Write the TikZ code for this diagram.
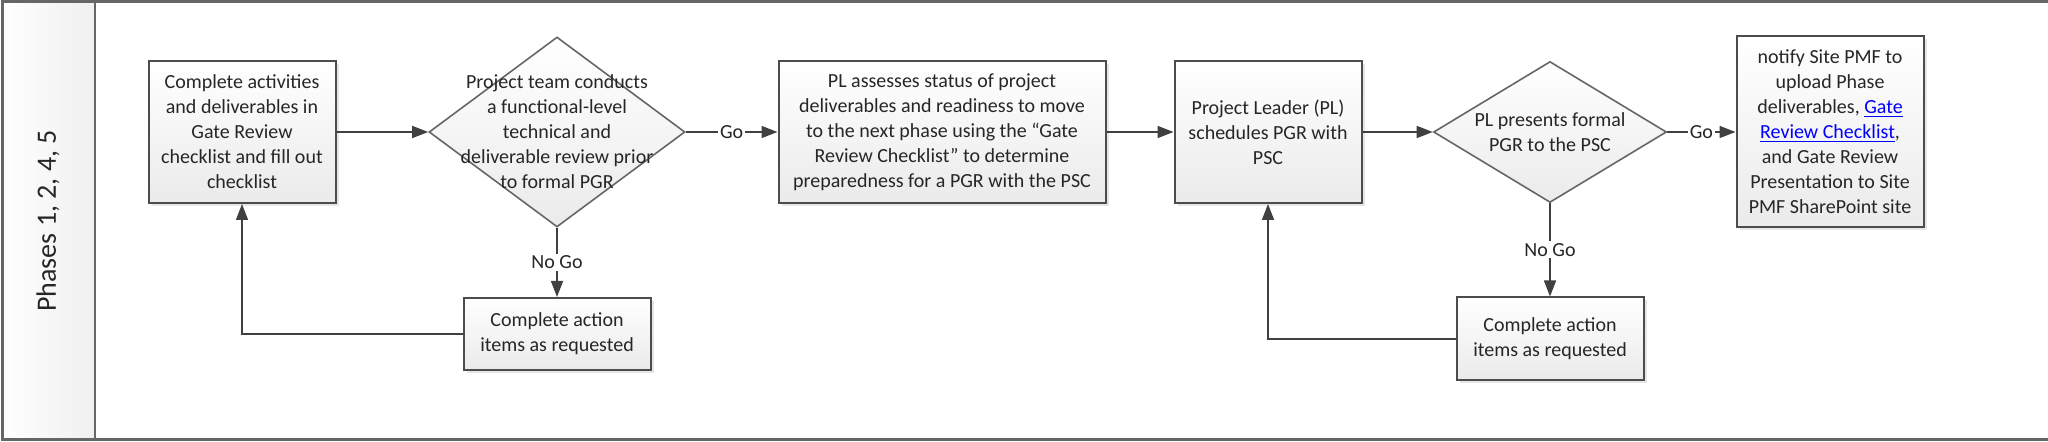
\documentclass[tikz,border=0pt]{standalone}
\usepackage{fontspec}
\setmainfont{Carlito}
\usetikzlibrary{shapes.geometric,arrows.meta,shadows}

\begin{document}
\begin{tikzpicture}[x=0.5pt,y=-0.5pt,
    box/.style={draw=black!70,line width=1pt,top color=white,bottom color=black!8,
      drop shadow={opacity=0.2,shadow xshift=1.5pt,shadow yshift=-1.5pt},
      align=center,inner sep=0pt,text=black!85,font=\fontsize{10}{12.5}\selectfont},
    dec/.style={diamond,draw=black!60,line width=0.8pt,top color=white,bottom color=black!8,inner sep=0pt},
    dectext/.style={align=center,text=black!85,font=\fontsize{10}{12.5}\selectfont},
    flow/.style={line width=0.8pt,draw=black!75,-{Triangle[length=8pt,width=6pt]}},
    lbl/.style={fill=white,inner sep=1pt,text=black!85,font=\fontsize{10}{12}\selectfont}]
        \useasboundingbox (0,0) rectangle (2048,442);
        % swimlane
        \shade[left color=white,right color=black!6] (2,2) rectangle (95,440);
        \draw[line width=1.5pt,black!60] (2048,2) -- (2,2) -- (2,440) -- (2048,440);
        \draw[line width=1.2pt,black!60] (95,2) -- (95,440);
        \node[rotate=90,font=\fontsize{14}{16}\selectfont,text=black!85] (lane) at (48,221) {Phases 1, 2, 4, 5};

        % steps
        \node[box,minimum width=93.5pt,minimum height=71pt] (b1) at (242,132)
            {Complete activities\\and deliverables in\\Gate Review\\checklist and fill out\\checklist};
        \node[dec,minimum width=128pt,minimum height=95pt] (d1) at (557,132) {};
        \node[dectext] (d1t) at (d1.center)
            {Project team conducts\\a functional-level\\technical and\\deliverable review prior\\to formal PGR};
        \node[box,minimum width=93.5pt,minimum height=36pt] (n1) at (557,334)
            {Complete action\\items as requested};
        \node[box,minimum width=163.5pt,minimum height=71pt] (b2) at (942,132)
            {PL assesses status of project\\deliverables and readiness to move\\to the next phase using the “Gate\\Review Checklist” to determine\\preparedness for a PGR with the PSC};
        \node[box,minimum width=93.5pt,minimum height=71pt] (b3) at (1268,132)
            {Project Leader (PL)\\schedules PGR with\\PSC};
        \node[dec,minimum width=116.5pt,minimum height=70.5pt] (d2) at (1550,132) {};
        \node[dectext] (d2t) at (d2.center) {PL presents formal\\PGR to the PSC};
        \node[box,minimum width=93.5pt,minimum height=41.5pt] (n2) at (1550,339)
            {Complete action\\items as requested};
        \node[box,minimum width=93.5pt,minimum height=95.5pt] (b4) at (1830,132)
            {notify Site PMF to\\upload Phase\\deliverables, \textcolor{blue}{\underline{Gate}}\\\textcolor{blue}{\underline{Review Checklist}},\\and Gate Review\\Presentation to Site\\PMF SharePoint site};

        % connectors
        \draw[flow] (b1.east) -- (d1.west);
        \draw[flow] (d1.east) -- node[lbl] {Go} (b2.west);
        \draw[flow] (d1.south) -- node[lbl] {No Go} (n1.north);
        \draw[flow] (n1.west) -| (b1.south);
        \draw[flow] (b2.east) -- (b3.west);
        \draw[flow] (b3.east) -- (d2.west);
        \draw[flow] (d2.east) -- node[lbl] {Go} (b4.west);
        \draw[flow] (d2.south) -- node[lbl] {No Go} (n2.north);
        \draw[flow] (n2.west) -| (b3.south);
\end{tikzpicture}
\end{document}
